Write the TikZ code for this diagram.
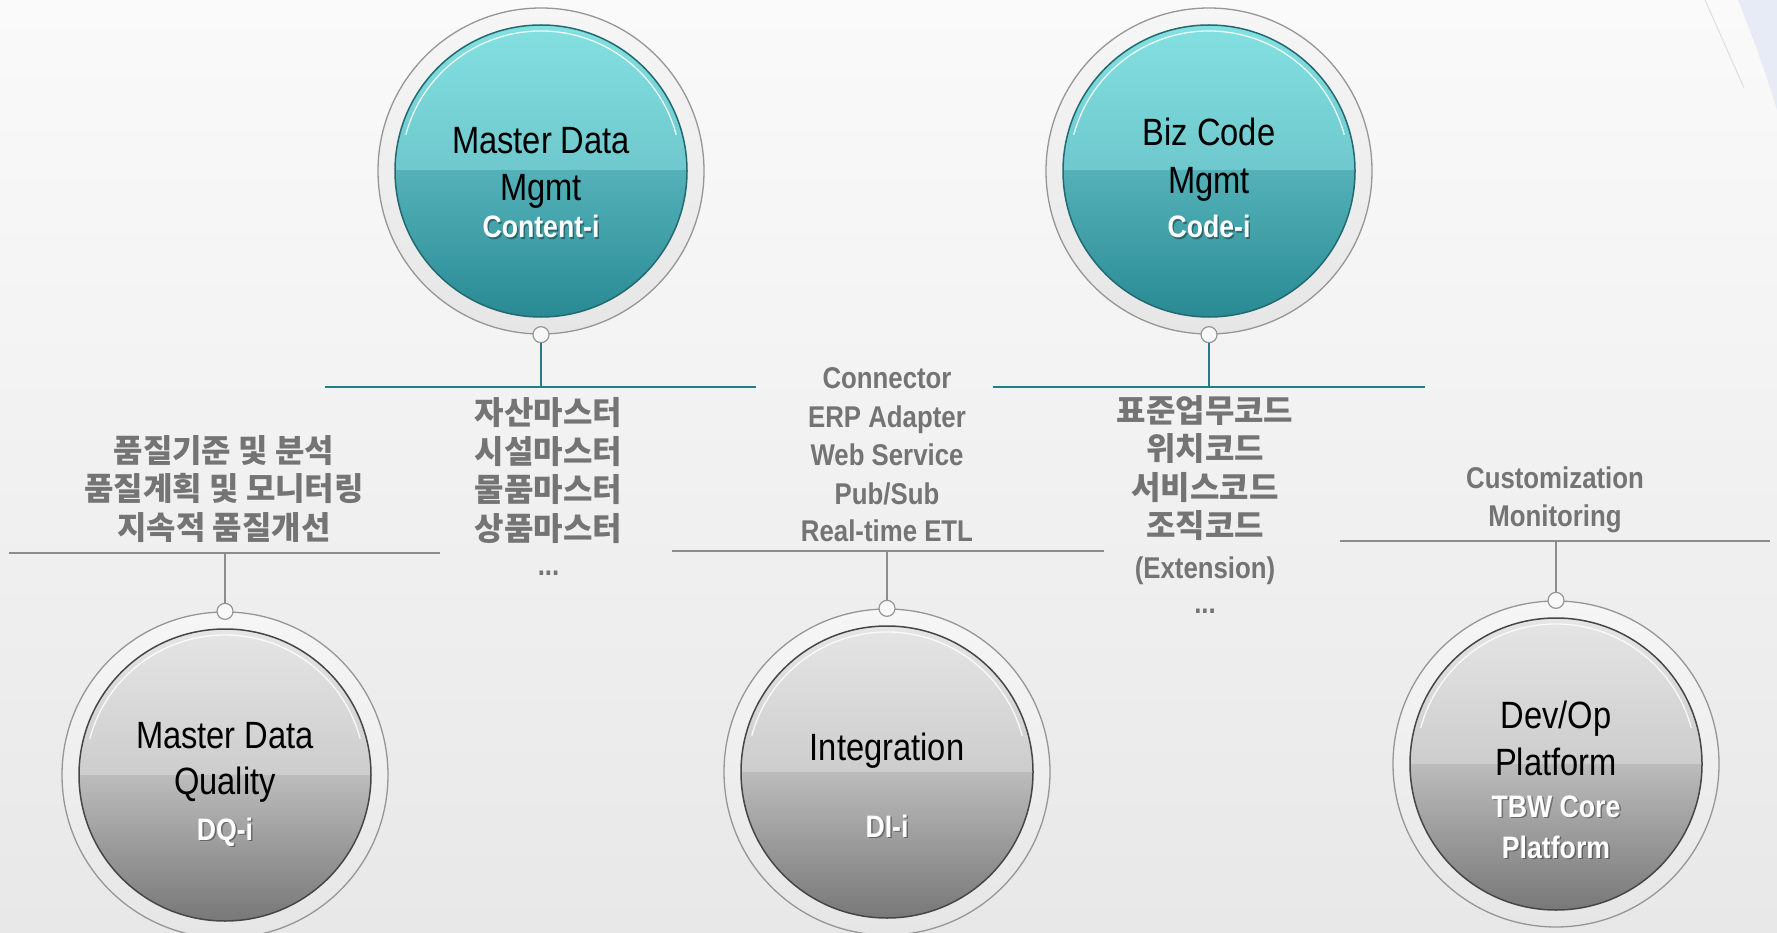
\documentclass[tikz,border=0pt]{standalone}
\usepackage{fontspec}
\setmainfont{Liberation Sans}
\newfontfamily\nar{Liberation Sans}[FakeStretch=0.86]
\newfontfamily\kr{Noto Sans CJK KR}
\definecolor{bgtop}{RGB}{250,250,250}
\definecolor{bgbot}{RGB}{232,232,232}
\definecolor{ringtop}{RGB}{246,246,246}
\definecolor{ringbot}{RGB}{230,230,230}
\definecolor{ringline}{RGB}{150,150,150}
\definecolor{dotfill}{RGB}{248,248,248}
\definecolor{tealA}{RGB}{132,225,225}
\definecolor{tealB}{RGB}{110,200,205}
\definecolor{tealC}{RGB}{84,177,184}
\definecolor{tealD}{RGB}{40,137,147}
\definecolor{tealE}{RGB}{35,105,112}
\definecolor{grayA}{RGB}{230,230,230}
\definecolor{grayB}{RGB}{205,205,205}
\definecolor{grayC}{RGB}{188,188,188}
\definecolor{grayD}{RGB}{118,118,118}
\definecolor{grayE}{RGB}{70,70,70}
\definecolor{tealline}{RGB}{38,124,134}
\definecolor{grayline}{RGB}{140,140,140}
\definecolor{lblgray}{RGB}{116,116,116}
\definecolor{swoosh}{RGB}{226,232,244}
\tikzset{
 ring/.style={circle, minimum size=326pt, inner sep=0pt, draw=ringline, line width=1.3pt, top color=ringtop, bottom color=ringbot},
 joint/.style={circle, minimum size=16pt, inner sep=0pt, draw=ringline, line width=1.2pt, fill=dotfill},
 maintext/.style={font=\nar\fontsize{38}{44}\selectfont, text=black, anchor=base},
 subtext/.style={font=\nar\bfseries\fontsize{31}{38}\selectfont, text=white, anchor=base},
 subshadow/.style={font=\nar\bfseries\fontsize{31}{38}\selectfont, text=black, text opacity=0.35, anchor=base, xshift=1.5pt, yshift=-1.5pt},
 lbl/.style={font=\nar\bfseries\fontsize{30}{38}\selectfont, text=lblgray, anchor=base},
 krlbl/.style={font=\kr\bfseries\fontsize{32}{38}\selectfont, text=lblgray, anchor=base},
 tline/.style={draw=tealline, line width=2pt},
 gline/.style={draw=grayline, line width=1.8pt},
}
% #1 name, #2 x, #3 y, #4 palette, #5 anchor of joint
\newcommand\bubbleat[5]{%
 \node[ring] (#1r) at (#2,#3) {};
 \node[circle, minimum size=292pt, inner sep=0pt] (#1) at (#2,#3) {};
 \begin{scope}
   \clip (#2,#3) circle[radius=146];
   \shade[top color=#4A, bottom color=#4B] (#2-150,#3-150) rectangle (#2+150,#3);
   \shade[top color=#4C, bottom color=#4D] (#2-150,#3) rectangle (#2+150,#3+150);
 \end{scope}
 \draw[draw=#4E, line width=1.5pt] (#2,#3) circle[radius=146];
 \draw[white, line width=1.3pt, opacity=.85] (#2,#3) ++(195:140) arc[start angle=195, end angle=345, radius=140];
 \node[joint] (#1d) at (#1r.#5) {};
}
\newcommand\wlabel[3]{%
 \node[subshadow] (#1s) at (#2) {#3};
 \node[subtext] (#1) at (#2) {#3};
}
\begin{document}
\begin{tikzpicture}[x=1pt,y=-1pt]
\useasboundingbox (0,0) rectangle (1777,933);
\shade[top color=bgtop, bottom color=bgbot] (0,0) rectangle (1777,933);
% faint swoosh at top right
\fill[swoosh, opacity=.8] (1738,0) -- (1777,0) -- (1777,110) .. controls (1765,70) and (1750,30) .. (1738,0) -- cycle;
\draw[gray!40, line width=1pt, opacity=.6] (1705,0) -- (1744,88);

% horizontal rails
\coordinate (t1a) at (325,386.5); \coordinate (t1b) at (756,386.5);
\coordinate (t2a) at (993,386.5); \coordinate (t2b) at (1425,386.5);
\coordinate (g1a) at (9,553);     \coordinate (g1b) at (440,553);
\coordinate (g2a) at (672,551);   \coordinate (g2b) at (1104,551);
\coordinate (g3a) at (1340,541);  \coordinate (g3b) at (1770,541);
\draw[tline] (t1a) -- (t1b);
\draw[tline] (t2a) -- (t2b);
\draw[gline] (g1a) -- (g1b);
\draw[gline] (g2a) -- (g2b);
\draw[gline] (g3a) -- (g3b);

% bubbles
\bubbleat{c1}{541}{171}{teal}{south}
\bubbleat{c2}{1209}{171}{teal}{south}
\bubbleat{c3}{225}{775}{gray}{north}
\bubbleat{c4}{887}{772}{gray}{north}
\bubbleat{c5}{1556}{764}{gray}{north}

% stems
\draw[tline] (c1d) -- (c1d |- t1a);
\draw[tline] (c2d) -- (c2d |- t2a);
\draw[gline] (c3d) -- (c3d |- g1a);
\draw[gline] (c4d) -- (c4d |- g2a);
\draw[gline] (c5d) -- (c5d |- g3a);

% bubble texts
\node[maintext] (c1a) at (541,154) {Master Data};
\node[maintext] (c1b) at (541,201) {Mgmt};
\wlabel{c1c}{541,238}{Content-i}

\node[maintext] (c2a) at (1209,146) {Biz Code};
\node[maintext] (c2b) at (1209,194) {Mgmt};
\wlabel{c2c}{1209,238}{Code-i}

\node[maintext] (c3a) at (225,748) {Master Data};
\node[maintext] (c3b) at (225,794) {Quality};
\wlabel{c3c}{225,840}{DQ-i}

\node[maintext] (c4a) at (887,760) {Integration};
\wlabel{c4c}{887,837}{DI-i}

\node[maintext] (c5a) at (1556,728) {Dev/Op};
\node[maintext] (c5b) at (1556,775) {Platform};
\wlabel{c5c}{1556,817}{TBW Core}
\wlabel{c5e}{1556,858}{Platform}

% left quality labels
\node[krlbl] (q1) at (224,462) {품질기준 및 분석};
\node[krlbl] (q2) at (224,500.5) {품질계획 및 모니터링};
\node[krlbl] (q3) at (224,539) {지속적 품질개선};

% master list
\node[krlbl] (m1) at (548.5,424) {자산마스터};
\node[krlbl] (m2) at (548.5,463) {시설마스터};
\node[krlbl] (m3) at (548.5,501) {물품마스터};
\node[krlbl] (m4) at (548.5,540) {상품마스터};
\node[lbl] (m5) at (548.5,575) {...};

% integration list
\node[lbl] (i1) at (887,388) {Connector};
\node[lbl] (i2) at (887,427) {ERP Adapter};
\node[lbl] (i3) at (887,465) {Web Service};
\node[lbl] (i4) at (887,504) {Pub/Sub};
\node[lbl] (i5) at (887,541) {Real-time ETL};

% code list
\node[krlbl] (k1) at (1205,422) {표준업무코드};
\node[krlbl] (k2) at (1205,460.5) {위치코드};
\node[krlbl] (k3) at (1205,499) {서비스코드};
\node[krlbl] (k4) at (1205,537.5) {조직코드};
\node[lbl] (k5) at (1205,578) {(Extension)};
\node[lbl] (k6) at (1205,613) {...};

% dev/op list
\node[lbl] (d1) at (1555,488) {Customization};
\node[lbl] (d2) at (1555,526) {Monitoring};
\end{tikzpicture}
\end{document}
